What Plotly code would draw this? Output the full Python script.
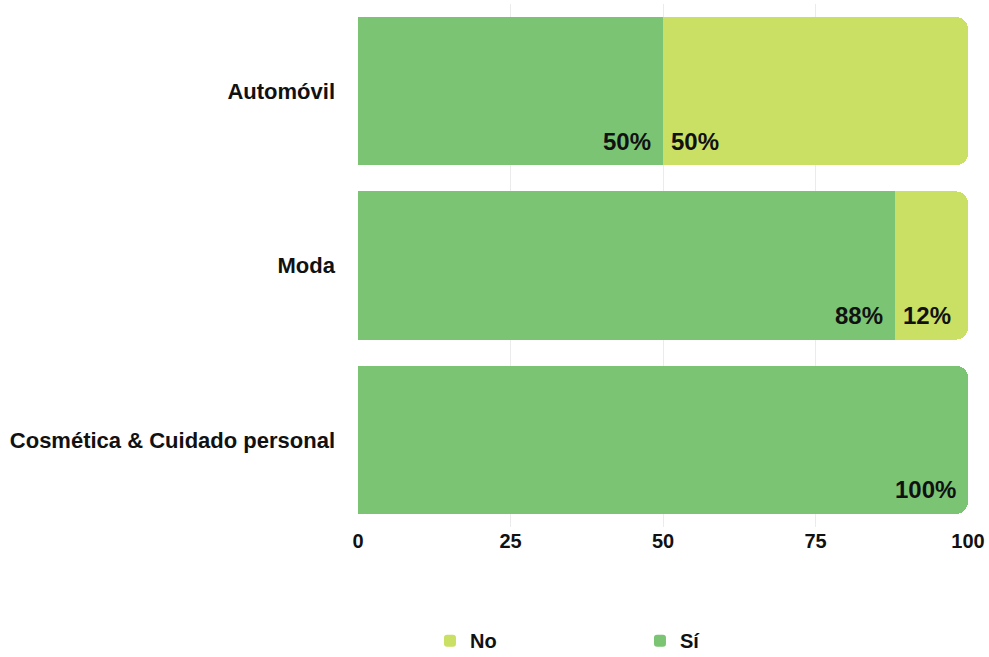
import plotly.graph_objects as go

categories = ["Automóvil", "Moda", "Cosmética & Cuidado personal"]
si_values = [50, 88, 100]
no_values = [50, 12, 0]
x_ticks = [0, 25, 50, 75, 100]

SI_COLOR = "#7BC474"
NO_COLOR = "#C9E065"
FONT = "Liberation Sans, Arial, sans-serif"

fig = go.Figure()
fig.add_trace(go.Bar(
    y=categories, x=si_values, orientation="h", name="Sí",
    marker=dict(color=SI_COLOR, line=dict(width=0)),
    hoverinfo="skip",
))
fig.add_trace(go.Bar(
    y=categories, x=no_values, orientation="h", name="No",
    marker=dict(color=NO_COLOR, line=dict(width=0)),
    hoverinfo="skip",
))

label_font = dict(family=FONT, size=24, color="#111111", weight="bold")
annotations = []
for cat, s, n in zip(categories, si_values, no_values):
    if s > 0:
        annotations.append(dict(
            x=s, y=cat, xref="x", yref="y", text=f"{s}%", showarrow=False,
            xanchor="right", yanchor="middle", xshift=-10, yshift=-50, font=label_font,
        ))
    if n > 0:
        annotations.append(dict(
            x=s, y=cat, xref="x", yref="y", text=f"{n}%", showarrow=False,
            xanchor="left", yanchor="middle", xshift=6, yshift=-50, font=label_font,
        ))

fig.update_layout(
    width=989, height=657,
    barmode="stack", bargap=0.15, barcornerradius=12,
    plot_bgcolor="white", paper_bgcolor="white",
    margin=dict(l=358, r=21, t=4, b=130, autoexpand=False),
    annotations=annotations,
    xaxis=dict(
        range=[0, 100], tickvals=x_ticks, showgrid=True, gridcolor="#EBEBEB",
        zeroline=False, showline=False, ticks="",
        tickfont=dict(family=FONT, size=20, color="#111111", weight="bold"),
    ),
    yaxis=dict(
        categoryorder="array", categoryarray=categories[::-1],
        showgrid=False, zeroline=False, showline=False, ticks="",
        ticklabelstandoff=22,
        tickfont=dict(family=FONT, size=22, color="#111111", weight="bold"),
    ),
    legend=dict(
        orientation="h", traceorder="reversed",
        x=0.118, xanchor="left", y=-0.18, yanchor="top",
        entrywidth=165, entrywidthmode="pixels",
        font=dict(family=FONT, size=20, color="#111111", weight="bold"),
    ),
)

fig.write_html("out.html")
